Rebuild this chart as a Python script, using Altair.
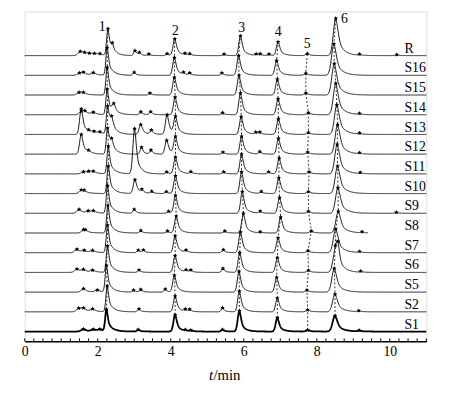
import altair as alt
import numpy as np
import pandas as pd

# ---------------- data ----------------
trace_names = ["S1", "S2", "S5", "S6", "S7", "S8", "S9", "S10", "S11",
               "S12", "S13", "S14", "S15", "S16", "R"]

# main peaks 1..6 : retention time (min) and height (px-like units)
main_t = {
    "R":   [2.28, 4.11, 5.91, 6.94, 7.74, 8.52],
    "S16": [2.26, 4.10, 5.86, 6.90, 7.70, 8.47],
    "S15": [2.26, 4.10, 5.87, 6.92, 7.70, 8.48],
    "S14": [2.26, 4.12, 5.91, 6.94, 7.77, 8.52],
    "S13": [2.27, 4.13, 5.93, 6.95, 7.77, 8.55],
    "S12": [2.27, 4.13, 5.94, 6.95, 7.75, 8.57],
    "S11": [2.29, 4.13, 5.94, 6.97, 7.79, 8.56],
    "S10": [2.29, 4.13, 5.94, 6.96, 7.77, 8.57],
    "S9":  [2.27, 4.13, 5.96, 6.98, 7.77, 8.58],
    "S8":  [2.28, 4.15, 5.99, 7.01, 7.85, 8.59],
    "S7":  [2.27, 4.12, 5.91, 6.94, 7.76, 8.52],
    "S6":  [2.27, 4.12, 5.89, 6.92, 7.77, 8.51],
    "S5":  [2.24, 4.10, 5.87, 6.90, 7.73, 8.48],
    "S2":  [2.26, 4.12, 5.88, 6.92, 7.75, 8.50],
    "S1":  [2.24, 4.12, 5.88, 6.92, 7.75, 8.50],
}
main_h = {
    "R":   [27, 17, 20, 14, 2, 38],
    "S16": [28, 18, 20, 15, 2, 32],
    "S15": [28, 18, 20, 16, 2, 32],
    "S14": [26, 18, 22, 16, 2, 32],
    "S13": [28, 17, 18, 16, 2, 30],
    "S12": [26, 17, 18, 16, 2, 30],
    "S11": [28, 17, 20, 16, 2, 30],
    "S10": [28, 18, 22, 16, 2, 28],
    "S9":  [28, 18, 22, 16, 2, 26],
    "S8":  [28, 17, 20, 16, 2, 22],
    "S7":  [28, 17, 21, 15, 2, 24],
    "S6":  [27, 17, 20, 15, 2, 22],
    "S5":  [27, 17, 21, 15, 2, 24],
    "S2":  [26, 16, 21, 14, 2, 18],
    "S1":  [22, 17, 21, 14, 1.5, 16],
}
# minor (marked) peaks: times and heights
minor_t = {
    "R":   [1.52, 1.64, 1.77, 1.91, 2.06, 2.40, 3.02, 3.14, 3.40, 3.90, 4.39, 4.52, 5.46, 6.34, 6.45, 6.69, 9.17, 10.19],
    "S16": [1.50, 1.61, 1.88, 3.00, 4.35, 4.52, 5.40],
    "S15": [1.49, 1.61, 3.43],
    "S14": [1.55, 1.65, 1.88, 2.44, 3.18, 3.45, 5.42, 9.17],
    "S13": [1.55, 1.75, 1.90, 2.06, 2.38, 3.18, 3.47, 3.90, 6.33, 6.44, 9.17],
    "S12": [1.55, 1.75, 2.38, 3.20, 3.46, 3.89, 5.43, 6.44, 9.17],
    "S11": [1.61, 1.75, 1.88, 3.01, 3.89, 4.55, 5.45, 6.68, 9.19],
    "S10": [1.55, 1.63, 3.02, 3.21, 3.48, 3.88, 6.48],
    "S9":  [1.49, 1.74, 1.88, 3.00, 3.94, 6.45, 10.18],
    "S8":  [1.61, 1.66, 3.18, 3.91, 5.48, 6.45, 9.24],
    "S7":  [1.43, 1.63, 1.86, 3.11, 3.25, 4.42, 5.44, 9.17],
    "S6":  [1.43, 1.61, 1.86, 3.13, 4.42, 4.55, 5.43, 8.58, 9.20],
    "S5":  [1.61, 1.99, 2.98, 3.18, 3.85],
    "S2":  [1.48, 1.61, 1.86, 3.13, 4.40, 4.52, 5.42, 9.15],
    "S1":  [1.61, 1.88, 2.06, 3.11, 4.40, 4.55, 5.42, 9.16],
}
minor_h = {
    "R":   [4, 2, 1.5, 1.5, 1.5, 7, 5, 2.5, 1.5, 2, 1.5, 1.5, 1.5, 1.5, 1.5, 1.5, 1, 1],
    "S16": [2, 2.5, 2.5, 3, 2, 2, 2.5],
    "S15": [2.5, 2, 2],
    "S14": [3, 3, 2, 8, 3, 3, 2, 1],
    "S13": [26, 2, 2, 2, 12, 10, 4, 20, 2, 2, 1],
    "S12": [20, 2, 10, 7, 4, 14, 2, 2.5, 1],
    "S11": [2, 2, 2, 46, 2, 2, 2, 2, 1],
    "S10": [3, 2, 14, 3, 2, 2, 2],
    "S9":  [4, 2, 2, 4, 2, 2, 1],
    "S8":  [2, 2, 2.5, 2, 2, 1, 1],
    "S7":  [3.5, 2, 2, 2.5, 2.5, 2, 3, 1],
    "S6":  [3.5, 2.5, 2, 2.5, 2, 2, 4, 18, 1],
    "S5":  [3.5, 2, 2, 2.5, 3],
    "S2":  [3.5, 3, 2.5, 3, 2, 2, 4, 1],
    "S1":  [2.5, 2, 2, 2, 1, 1, 2, 1],
}
trace_end = {"S8": 9.4}

peak_numbers = ["1", "2", "3", "4", "5", "6"]
peak_number_t = [2.12, 4.13, 5.94, 6.94, 7.74, 8.76]
peak_number_y = [320, 316, 319, 314.5, 303, 328.5]

axis_labels = [0, 2, 4, 6, 8, 10]

# ---------------- build the curves ----------------
SPACING = 20.07
FONT = "Liberation Serif"


def shape(dt, s, tau):
    g = np.exp(-0.5 * (dt / s) ** 2)
    e = np.exp(-np.clip(dt, 0, None) / tau)
    return np.where(dt < 0, g, 0.45 * g + 0.55 * e)


def params(t0, h, kind):
    if t0 < 2.1 and h < 8:
        return 0.06, 0.15
    if kind == 5:
        return 0.065, 0.17
    if kind == 0:
        return 0.035, 0.13
    if kind >= 0 or h >= 8:
        return 0.045, 0.12
    return 0.035, 0.09


def curve(tr, tt):
    y = np.zeros_like(tt, dtype=float)
    for k, (t0, h) in enumerate(zip(main_t[tr], main_h[tr])):
        s, tau = params(t0, h, k)
        y += h * shape(tt - t0, s, tau)
    for t0, h in zip(minor_t[tr], minor_h[tr]):
        s, tau = params(t0, h, -1)
        y += h * shape(tt - t0, s, tau)
    return y


line_rows, marker_rows, conn_rows, label_rows = [], [], [], []
for i, tr in enumerate(trace_names):
    base = 10 + SPACING * i
    end = trace_end.get(tr, 11.0)
    grid = np.unique(np.concatenate([np.arange(0, end + 1e-9, 0.01),
                                     main_t[tr], minor_t[tr]]))
    grid = grid[grid <= end]
    yy = base + curve(tr, grid)
    for t, v in zip(grid, yy):
        line_rows.append({"t": t, "y": v, "trace": tr, "bold": tr == "S1"})
    pts = np.array(main_t[tr] + minor_t[tr])
    for t, v in zip(pts, base + curve(tr, pts)):
        marker_rows.append({"t": t, "y": v, "trace": tr})
    for k, t in enumerate(main_t[tr]):
        v = base + curve(tr, np.array([t]))[0]
        conn_rows.append({"t": t, "y": v, "peak": k, "idx": i})
    label_rows.append({"t": 10.40, "y": base + 3, "name": tr})

lines = pd.DataFrame(line_rows)
markers = pd.DataFrame(marker_rows)
conns = pd.DataFrame(conn_rows)
labels = pd.DataFrame(label_rows)
nums = pd.DataFrame({"t": peak_number_t, "y": peak_number_y, "n": peak_numbers})
ticks = pd.DataFrame({"t": np.arange(0, 11.001, 0.25)})
ticks["y0"] = 0
ticks["y1"] = 3
title_df = pd.DataFrame({"t": [5.05, 5.17], "txt": ["t", "/min"],
                         "style": ["italic", "normal"]})

# ---------------- chart ----------------
xaxis = alt.Axis(values=axis_labels, ticks=False, grid=False, domainColor="black",
                 domainWidth=1.5, labelFont=FONT, labelFontSize=14,
                 labelColor="black", labelPadding=3, title=None, labelFlush=False)
X = alt.X("t:Q", scale=alt.Scale(domain=[0, 11], nice=False, zero=False), axis=xaxis)
Y = alt.Y("y:Q", scale=alt.Scale(domain=[0, 336], nice=False, zero=False), axis=None)

thin = alt.Chart(lines[~lines["bold"]]).mark_line(color="black", strokeWidth=0.9).encode(
    x=X, y=Y, detail="trace:N", order="t:Q")
bold = alt.Chart(lines[lines["bold"]]).mark_line(color="black", strokeWidth=1.8).encode(
    x=X, y=Y, detail="trace:N", order="t:Q")
dash = alt.Chart(conns).mark_line(color="black", strokeWidth=0.8, strokeDash=[2, 2]).encode(
    x=X, y=Y, detail="peak:N", order="idx:Q")
star = "M0,-1L0.29,-0.4L0.95,-0.31L0.47,0.15L0.59,0.81L0,0.5L-0.59,0.81L-0.47,0.15L-0.95,-0.31L-0.29,-0.4Z"
pts = alt.Chart(markers).mark_point(shape=star, filled=True, color="black", size=22, opacity=1).encode(
    x=X, y=Y)
tlabels = alt.Chart(labels).mark_text(align="left", baseline="alphabetic", font=FONT,
                                      fontSize=14, color="black").encode(x=X, y=Y, text="name:N")
nlabels = alt.Chart(nums).mark_text(align="center", baseline="middle", font=FONT,
                                    fontSize=14, color="black").encode(x=X, y=Y, text="n:N")
tickmarks = alt.Chart(ticks).mark_rule(color="black", strokeWidth=1).encode(
    x=X, y=alt.Y("y0:Q", scale=alt.Scale(domain=[0, 336], nice=False, zero=False), axis=None),
    y2="y1:Q")
t_it = alt.Chart(title_df[title_df["style"] == "italic"]).mark_text(
    align="left", baseline="middle", font=FONT, fontSize=15, fontStyle="italic",
    color="black").encode(x=X, y=alt.value(370), text="txt:N")
t_norm = alt.Chart(title_df[title_df["style"] == "normal"]).mark_text(
    align="left", baseline="middle", font=FONT, fontSize=15,
    color="black").encode(x=X, y=alt.value(370), text="txt:N")

chart = alt.layer(thin, bold, dash, pts, tickmarks, tlabels, nlabels, t_it, t_norm).properties(
    width=409, height=336,
    autosize=alt.AutoSizeParams(type="none"),
    padding={"left": 17, "top": 0, "right": 18, "bottom": 42},
).configure_view(stroke=None).configure(background="white")

chart.save("out.html", embed_options={"renderer": "svg", "actions": False})
